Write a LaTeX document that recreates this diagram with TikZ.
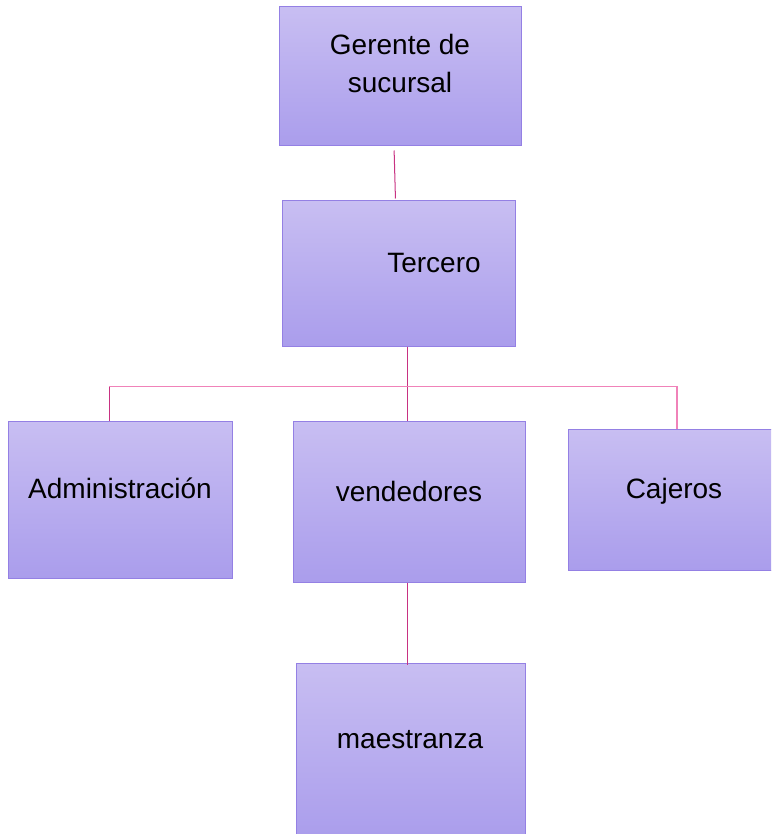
\documentclass[tikz,border=0pt]{standalone}
\usepackage{fontspec}
\setmainfont{Liberation Sans}
\usepackage{xcolor}
\usepackage{tikz}
\definecolor{boxtop}{RGB}{200,190,242}
\definecolor{boxbot}{RGB}{170,157,236}
\definecolor{boxedge}{RGB}{148,128,228}
\definecolor{lnmag}{RGB}{200,50,130}
\definecolor{lnpink}{RGB}{240,130,185}

\begin{document}
\begin{tikzpicture}[x=1pt,y=-1pt,
    cargo/.style={draw=boxedge,line width=1pt,top color=boxtop,bottom color=boxbot,inner sep=0pt},
    rotulo/.style={anchor=base,font=\fontsize{28}{38}\selectfont,align=center,inner sep=0pt},
    enlace/.style={draw=lnmag,line width=1pt},
    barra/.style={draw=lnpink,line width=1.4pt}]
    \clip (0,0) rectangle (771,834);
    \useasboundingbox (0,0) rectangle (771,834);
    \node[cargo,minimum width=242,minimum height=139] (ger) at (400,76.5) {};
    \node[cargo,minimum width=233,minimum height=145] (ter) at (398.5,273.5) {};
    \node[cargo,minimum width=224,minimum height=157] (adm) at (120,499.5) {};
    \node[cargo,minimum width=232,minimum height=161] (ven) at (409,501.5) {};
    \node[cargo,minimum width=206,minimum height=141] (caj) at (671,499.5) {};
    \node[cargo,minimum width=229,minimum height=176] (mae) at (410.5,751) {};
    \node[rotulo] (ger-t) at (400,93) {Gerente de\\sucursal};
    \node[rotulo] (ter-t) at (434,272) {Tercero};
    \node[rotulo] (adm-t) at (120,498) {Administración};
    \node[rotulo] (ven-t) at (409,501) {vendedores};
    \node[rotulo] (caj-t) at (674,498) {Cajeros};
    \node[rotulo] (mae-t) at (410,748) {maestranza};
    \draw[enlace,shorten <=4pt,shorten >=2pt] ([xshift=-6]ger.south) -- ([xshift=-3]ter.north);
    \draw[enlace] ([xshift=8.5]ter.south) -- ([xshift=-2]ven.north);
    \draw[barra] ([xshift=-11]adm.north) ++(0,-34) coordinate (bus) -| ([xshift=6]caj.north);
    \draw[enlace] ([xshift=-11]adm.north) -- (bus);
    \draw[enlace,shorten >=-2pt] ([xshift=-2]ven.south) -- ([xshift=-3.5]mae.north);
\end{tikzpicture}
\end{document}
